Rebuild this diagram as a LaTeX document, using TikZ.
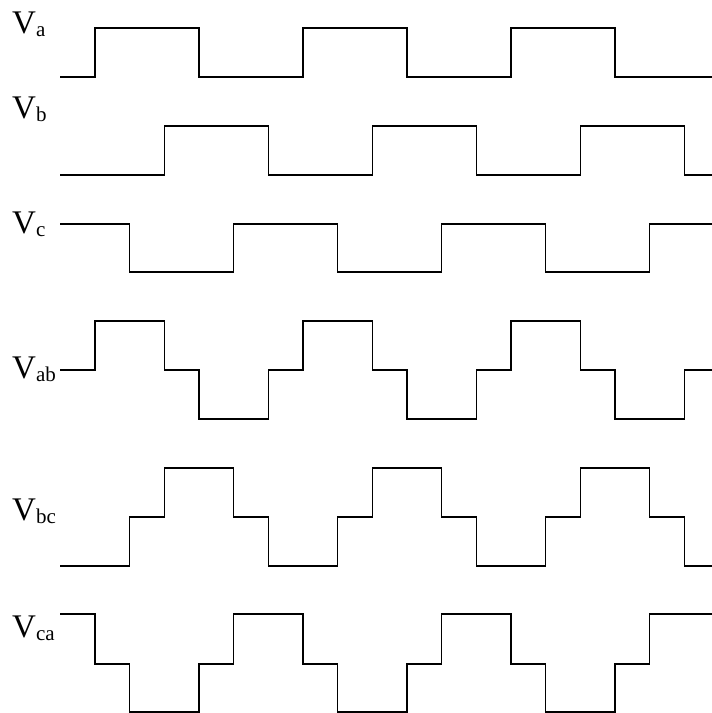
\documentclass[tikz,border=0pt]{standalone}
\usepackage{fontspec}
\setmainfont{Liberation Serif}
\newcommand\Vlab[1]{V\raisebox{-3pt}{\fontsize{21}{21}\selectfont #1}}
\begin{document}
\begin{tikzpicture}[x=1pt,y=-1pt,
  wave/.style={line width=1.5pt,line join=miter,black},
  lab/.style={anchor=base west,inner sep=0pt,font=\fontsize{33}{33}\selectfont}]
\useasboundingbox (0,0) rectangle (712,713);
\node[lab] (la) at (12,33) {\Vlab{a}};
\node[lab] (lb) at (12,118) {\Vlab{b}};
\node[lab] (lc) at (12,233) {\Vlab{c}};
\node[lab] (lab) at (12,378) {\Vlab{ab}};
\node[lab] (lbc) at (12,520) {\Vlab{bc}};
\node[lab] (lca) at (12,637) {\Vlab{ca}};
\begin{scope}[x=34.667pt,xshift=60.33pt]
\draw[wave] (0,77) -| (1,28) -| (4,77) -| (7,28) -| (10,77) -| (13,28) -| (16,77) -- (18.8,77);
\draw[wave] (0,175) -| (3,126) -| (6,175) -| (9,126) -| (12,175) -| (15,126) -| (18,175) -- (18.8,175);
\draw[wave] (0,224) -| (2,272) -| (5,224) -| (8,272) -| (11,224) -| (14,272) -| (17,224) -- (18.8,224);
\draw[wave] (0,370) -| (1,321) -| (3,370) -| (4,419) -| (6,370) -| (7,321) -| (9,370) -| (10,419) -| (12,370) -| (13,321) -| (15,370) -| (16,419) -| (18,370) -- (18.8,370);
\draw[wave] (0,566) -| (2,517) -| (3,468) -| (5,517) -| (6,566) -| (8,517) -| (9,468) -| (11,517) -| (12,566) -| (14,517) -| (15,468) -| (17,517) -| (18,566) -- (18.8,566);
\draw[wave] (0,614) -| (1,664) -| (2,712) -| (4,664) -| (5,614) -| (7,664) -| (8,712) -| (10,664) -| (11,614) -| (13,664) -| (14,712) -| (16,664) -| (17,614) -- (18.8,614);
\end{scope}
\end{tikzpicture}
\end{document}
